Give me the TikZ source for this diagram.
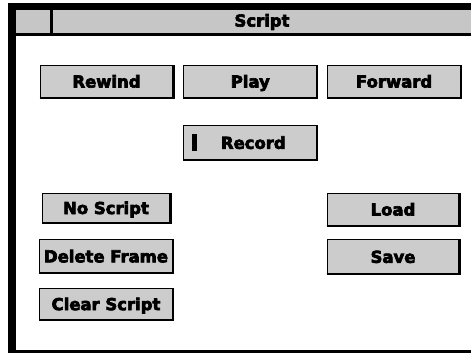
\documentclass[tikz,border=0pt]{standalone}
\usepackage{fontspec}
\newfontfamily\guifont[FakeBold=4]{DejaVu Sans Bold}
\usetikzlibrary{positioning}

\begin{document}
\begin{tikzpicture}[x=1bp, y=-1bp,
    btn/.style={draw, line width=0.8bp, fill=gray!40, minimum width=133bp, minimum height=33bp, inner sep=0pt,
        text height=12bp, text depth=0bp, font=\guifont\fontsize{16.5}{16.5}\selectfont},
    shade/.style={line width=2.2bp}]
    \useasboundingbox (0,0) rectangle (471,355);

    % window frame and title bar
    \fill [black] (8,3) rectangle (471,353);
    \fill [white] (16,10) rectangle (471,350);
    \fill [gray!45] (16,10) rectangle (471,33);
    \fill [black] (16,33) rectangle (471,35.5);
    \fill [black] (50,10) rectangle (53,33);
    \node (title) at (262,22) [font=\guifont\fontsize{16.5}{16.5}\selectfont] {Script};

    % transport buttons
    \node (rewind) at (106.5,81.5) [btn] {Rewind};
    \node (play) [btn, right=10bp of rewind] {Play};
    \node (forward) [btn, right=10bp of play] {Forward};
    \node (record) [btn, minimum height=34bp, below=27bp of play] {\hspace{6bp}Record};
    \fill [black] ([xshift=9bp,yshift=8.5bp]record.west) rectangle ([xshift=14bp,yshift=-8.5bp]record.west);

    % script buttons
    \node (noscript) at (106,208) [btn, minimum width=128bp, minimum height=30bp] {No Script};
    \node (delete) [btn, below=16bp of noscript] {Delete Frame};
    \node (clear) [btn, minimum height=31bp, below=15bp of delete] {Clear Script};
    \node (load) at (393,209.5) [btn, minimum width=132bp] {Load};
    \node (save) [btn, minimum width=132bp, minimum height=34bp, below=13bp of load] {Save};

    \foreach \b in {rewind, play, forward, record, noscript, delete, clear, load, save}
        \draw [shade] ([yshift=0.4bp]\b.south west) -- ([yshift=0.4bp]\b.south east) -- (\b.north east);
\end{tikzpicture}
\end{document}
